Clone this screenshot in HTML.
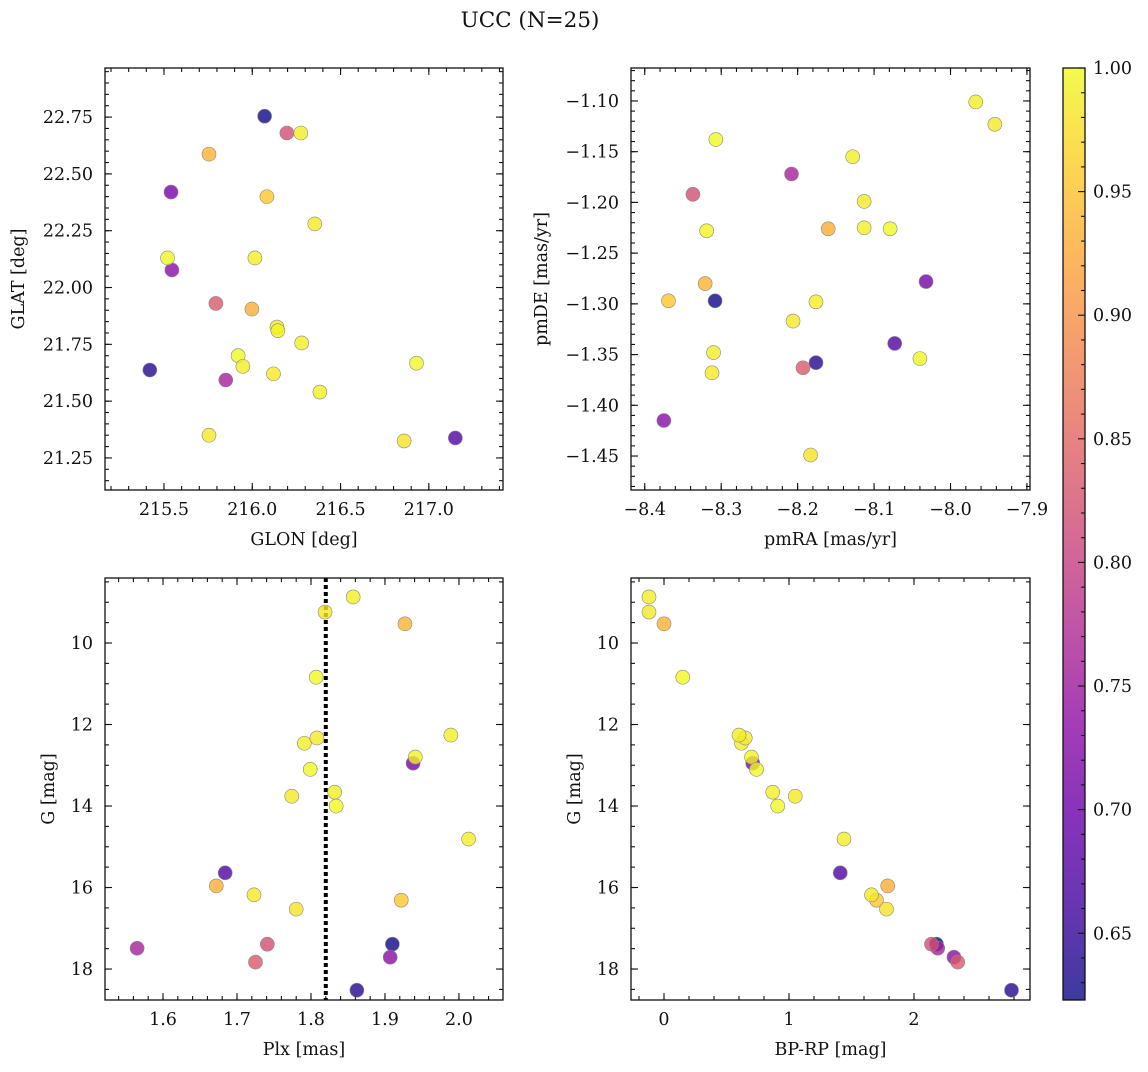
<!DOCTYPE html>
<html><head><meta charset="utf-8"><style>
body{margin:0;background:#fff;}
svg text{font-family:"DejaVu Serif","Liberation Serif",serif;fill:#111;}
</style></head><body>
<svg id="fig" width="1148" height="1067" xmlns="http://www.w3.org/2000/svg">
<defs><linearGradient id="cbg" x1="0" y1="1" x2="0" y2="0">
<stop offset="0" stop-color="#0d0887"/><stop offset="0.1" stop-color="#41049d"/><stop offset="0.2" stop-color="#6a00a8"/><stop offset="0.3" stop-color="#8f0da4"/><stop offset="0.4" stop-color="#b12a90"/><stop offset="0.5" stop-color="#cc4778"/><stop offset="0.6" stop-color="#e16462"/><stop offset="0.7" stop-color="#f2844b"/><stop offset="0.8" stop-color="#fca636"/><stop offset="0.9" stop-color="#fcce25"/><stop offset="1" stop-color="#f0f921"/>
</linearGradient></defs>
<text x="530" y="27" font-size="21.5" text-anchor="middle">UCC (N=25)</text>
</svg>
<script>
const glon=[216.07,215.42,217.15,215.54,215.545,215.85,216.196,215.794,215.755,215.998,216.083,
216.275,216.354,215.52,216.015,216.14,216.145,216.28,215.92,215.947,216.12,216.93,216.383,215.755,216.86];
const glat=[22.754,21.637,21.338,22.42,22.077,21.593,22.68,21.93,22.587,21.905,22.40,
22.68,22.28,22.13,22.13,21.826,21.81,21.756,21.70,21.653,21.62,21.667,21.54,21.35,21.325];
const pmra=[-8.308,-8.176,-8.073,-8.032,-8.375,-8.208,-8.337,-8.193,-8.321,-8.160,-8.369,
-7.967,-7.942,-8.307,-8.128,-8.113,-8.319,-8.113,-8.079,-8.176,-8.206,-8.040,-8.310,-8.312,-8.183];
const pmde=[-1.297,-1.358,-1.339,-1.278,-1.415,-1.172,-1.192,-1.363,-1.280,-1.226,-1.297,
-1.101,-1.123,-1.138,-1.155,-1.199,-1.228,-1.225,-1.226,-1.298,-1.317,-1.354,-1.348,-1.368,-1.449];
const plx=[1.910,1.862,1.684,1.938,1.907,1.565,1.741,1.725,1.927,1.672,1.922,
1.857,1.819,1.807,1.791,1.808,1.941,1.989,1.799,1.832,1.774,1.834,2.013,1.723,1.780];
const gmag=[17.39,18.52,15.64,12.95,17.71,17.49,17.39,17.83,9.53,15.96,16.31,
8.87,9.24,10.84,12.46,12.33,12.80,12.26,13.10,13.66,13.76,14.0,14.81,16.18,16.53];
const bprp=[2.18,2.78,1.41,0.71,2.32,2.19,2.14,2.35,0.0,1.79,1.70,
-0.12,-0.12,0.15,0.62,0.65,0.70,0.60,0.74,0.87,1.05,0.91,1.44,1.66,1.78];
const prob=[0.623,0.64,0.675,0.71,0.73,0.76,0.82,0.835,0.935,0.93,0.955,
0.99,0.985,1.0,0.99,0.985,0.995,0.99,1.0,0.99,0.985,1.0,0.99,0.985,0.98];
const plxLine=1.82;

const NS="http://www.w3.org/2000/svg",svg=document.getElementById('fig');
function mk(t,a,p){const e=document.createElementNS(NS,t);for(const k in a)e.setAttribute(k,a[k]);(p||svg).appendChild(e);return e;}
const stops=[[13,8,135],[65,4,157],[106,0,168],[143,13,164],[177,42,144],[204,71,120],[225,100,98],[242,132,75],[252,166,54],[252,206,37],[240,249,33]];
const vmin=0.623,vmax=1.0;
function cmap(v){let t=Math.max(0,Math.min(1,(v-vmin)/(vmax-vmin)))*10;let i=Math.min(9,Math.floor(t)),f=t-i;
const c=stops[i].map((x,k)=>Math.round(x+(stops[i+1][k]-x)*f));return `rgb(${c})`;}
function fmt(v,d){let s=v.toFixed(d);return s.replace('-','\u2212');}
const FS=17.5;
function axes(o){
 const g=mk('g',{});
 const sx=v=>o.x0+(v-o.xr[0])/(o.xr[1]-o.xr[0])*(o.x1-o.x0);
 const sy=o.inv?v=>o.y0+(v-o.yr[0])/(o.yr[1]-o.yr[0])*(o.y1-o.y0):v=>o.y1-(v-o.yr[0])/(o.yr[1]-o.yr[0])*(o.y1-o.y0);
 const tk=mk('g',{stroke:'#111','stroke-width':1.1},g);
 function ticks(lo,hi,st,fn){const n0=Math.ceil(lo/st-1e-6),n1=Math.floor(hi/st+1e-6);for(let n=n0;n<=n1;n++)fn(n*st);}
 const xlo=Math.min(...o.xr),xhi=Math.max(...o.xr),ylo=Math.min(...o.yr),yhi=Math.max(...o.yr);
 ticks(xlo,xhi,o.xmin,v=>{const x=sx(v);mk('line',{x1:x,x2:x,y1:o.y1,y2:o.y1-4},tk);mk('line',{x1:x,x2:x,y1:o.y0,y2:o.y0+4},tk);});
 ticks(ylo,yhi,o.ymin,v=>{const y=sy(v);mk('line',{x1:o.x0,x2:o.x0+4,y1:y,y2:y},tk);mk('line',{x1:o.x1,x2:o.x1-4,y1:y,y2:y},tk);});
 ticks(xlo,xhi,o.xmaj,v=>{const x=sx(v);mk('line',{x1:x,x2:x,y1:o.y1,y2:o.y1-7},tk);mk('line',{x1:x,x2:x,y1:o.y0,y2:o.y0+7},tk);
  const t=mk('text',{x:x,y:o.y1+25,'font-size':FS,'text-anchor':'middle'},g);t.textContent=fmt(v,o.xd);});
 ticks(ylo,yhi,o.ymaj,v=>{const y=sy(v);mk('line',{x1:o.x0,x2:o.x0+7,y1:y,y2:y},tk);mk('line',{x1:o.x1,x2:o.x1-7,y1:y,y2:y},tk);
  const t=mk('text',{x:o.x0-12,y:y+6,'font-size':FS,'text-anchor':'end'},g);t.textContent=fmt(v,o.yd);});
 const xl=mk('text',{x:(o.x0+o.x1)/2,y:o.y1+55,'font-size':FS,'text-anchor':'middle'},g);xl.textContent=o.xl;
 
 const yx=o.ylx,yy=(o.y0+o.y1)/2;const yl=mk('text',{x:yx,y:yy,'font-size':FS,'text-anchor':'middle',transform:`rotate(-90 ${yx} ${yy})`},g);yl.textContent=o.yl;
 
 if(o.vline!==undefined){const l=mk('line',{x1:sx(o.vline),x2:sx(o.vline),y1:o.y0,y2:o.y1,stroke:'#000','stroke-width':4,'stroke-dasharray':'4 3'},g);
  }
 const pts=mk('g',{},g);
 o.xs.forEach((xv,i)=>{const c=mk('circle',{cx:sx(xv),cy:sy(o.ys[i]),r:7,fill:cmap(prob[i]),'fill-opacity':0.8,stroke:'#888','stroke-width':0.6},pts);
  });
 const fr=mk('rect',{x:o.x0,y:o.y0,width:o.x1-o.x0,height:o.y1-o.y0,fill:'none',stroke:'#111','stroke-width':1.3},g);
 
}
axes({name:'glon-glat-panel',x0:105,x1:503,y0:68,y1:490,xr:[215.166,217.42],yr:[21.109,22.966],xmaj:0.5,xmin:0.1,ymaj:0.25,ymin:0.05,xd:1,yd:2,xl:'GLON [deg]',yl:'GLAT [deg]',ylx:24,xs:glon,ys:glat});
axes({name:'pm-panel',x0:631,x1:1030,y0:68,y1:490,xr:[-8.418,-7.896],yr:[-1.4835,-1.0675],xmaj:0.1,xmin:0.02,ymaj:0.05,ymin:0.01,xd:1,yd:2,xl:'pmRA [mas/yr]',yl:'pmDE [mas/yr]',ylx:547,xs:pmra,ys:pmde});
axes({name:'plx-g-panel',x0:105,x1:503,y0:578,y1:1000,xr:[1.5216,2.0595],yr:[8.405,18.76],inv:true,xmaj:0.1,xmin:0.02,ymaj:2,ymin:0.5,xd:1,yd:0,xl:'Plx [mas]',yl:'G [mag]',ylx:54,xs:plx,ys:gmag,vline:plxLine});
axes({name:'cmd-panel',x0:631,x1:1030,y0:578,y1:1000,xr:[-0.264,2.928],yr:[8.405,18.76],inv:true,xmaj:1,xmin:0.2,ymaj:2,ymin:0.5,xd:0,yd:0,xl:'BP-RP [mag]',yl:'G [mag]',ylx:580,xs:bprp,ys:gmag});
const cb=mk('g',{});
mk('rect',{x:1063,y:68,width:22,height:932,fill:'url(#cbg)','fill-opacity':0.8},cb);
const cy=v=>1000-(v-vmin)/(vmax-vmin)*932;
for(let n=63;n<=100;n++){const v=n/100,y=cy(v),maj=n%5==0;mk('line',{x1:1085,x2:1085-(maj?7:4),y1:y,y2:y,stroke:'#111','stroke-width':1.1},cb);
 if(maj){const t=mk('text',{x:1093,y:y+6,'font-size':FS},cb);t.textContent=v.toFixed(2);}}
mk('rect',{x:1063,y:68,width:22,height:932,fill:'none',stroke:'#111','stroke-width':1.3},cb);
</script>
</body></html>
